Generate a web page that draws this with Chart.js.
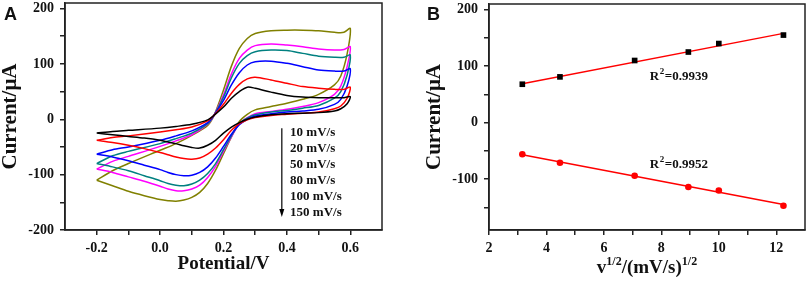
<!DOCTYPE html>
<html>
<head>
<meta charset="utf-8">
<script src="https://cdn.jsdelivr.net/npm/chart.js@4.4.1/dist/chart.umd.min.js"></script>
<style>
  html, body { margin: 0; padding: 0; background: #fff; }
  #wrap { position: relative; width: 809px; height: 283px; }
  canvas { position: absolute; top: 0; }
  #cv { left: 0; }
  #fit { left: 405px; }
</style>
</head>
<body>
<div id="wrap">
  <canvas id="cv" width="405" height="283"></canvas>
  <canvas id="fit" width="404" height="283"></canvas>
</div>
<script>
// -- THE DATA --

// Panel A: cyclic voltammograms, forward (anodic) and reverse (cathodic) sweeps
const scanRates = ['10 mV/s', '20 mV/s', '50 mV/s', '80 mV/s', '100 mV/s', '150 mV/s'];
const fwdPotential = [-0.2, -0.15, -0.1, 0.0, 0.05, 0.1, 0.15, 0.17, 0.2, 0.225, 0.25, 0.275, 0.3, 0.35, 0.4, 0.45, 0.5, 0.55, 0.58, 0.6];
const revPotential = [0.59, 0.57, 0.55, 0.5, 0.45, 0.4, 0.35, 0.3, 0.275, 0.25, 0.225, 0.2, 0.175, 0.15, 0.125, 0.1, 0.075, 0.05, 0.025, 0.0, -0.05, -0.1, -0.15, -0.2];

const fwd10  = [-25, -22, -20, -16, -13, -9, -1, 7, 22, 38, 50, 58, 56, 49, 43, 40, 39, 39, 39, 41];
const fwd20  = [-38, -33, -30, -23, -19, -14, -3, 7, 27, 47, 63, 73, 76, 71, 65, 59, 56, 54, 54, 58];
const fwd50  = [-63, -55, -50, -38, -30, -21, -6, 7, 34, 62, 84, 98, 104, 105, 101, 95, 89, 87, 87, 91];
const fwd80  = [-80, -66, -58, -44, -35, -25, -8, 7, 40, 75, 101, 115, 122, 125, 124, 119, 114, 112, 112, 116];
const fwd100 = [-90, -76, -67, -49, -39, -28, -9, 7, 44, 82, 110, 125, 133, 136, 134, 131, 127, 125, 126, 131];
const fwd150 = [-110, -93, -80, -56, -44, -29, -11, 7, 53, 96, 128, 146, 155, 160, 161, 161, 160, 157, 157, 164];

const rev10  = [28, 19, 15, 12, 11, 10, 8, 4, 0, -6, -14, -25, -38, -47, -52, -51, -48, -44, -41, -38, -34, -31, -28, -25];
const rev20  = [38, 24, 19, 13, 11, 9, 7, 3, -1, -8, -20, -37, -52, -63, -70, -72, -71, -68, -64, -60, -53, -47, -42, -38];
const rev50  = [60, 36, 27, 18, 15, 13, 10, 6, 0, -10, -27, -49, -70, -86, -96, -101, -102, -100, -96, -91, -83, -75, -68, -63];
const rev80  = [80, 50, 38, 25, 20, 16, 13, 8, 2, -8, -30, -55, -80, -98, -110, -117, -120, -119, -116, -111, -102, -93, -86, -80];
const rev100 = [95, 60, 45, 30, 23, 18, 14, 10, 3, -8, -32, -58, -85, -105, -119, -126, -129, -129, -126, -121, -112, -104, -96, -90];
const rev150 = [118, 78, 62, 45, 36, 29, 23, 17, 9, -4, -32, -62, -92, -116, -132, -141, -146, -148, -147, -145, -138, -130, -120, -110];

const cvColors = ['#000000', '#ff0000', '#0000ff', '#008080', '#ff00ff', '#808000'];
const potentialTicks = [-0.2, -0.1, 0.0, 0.1, 0.2, 0.3, 0.4, 0.5, 0.6];
const currentTicksA = [-200, -150, -100, -50, 0, 50, 100, 150, 200];

// Panel B: peak current vs square root of scan rate
const sqrtScanRate = [3.16, 4.47, 7.07, 8.94, 10.0, 12.25];
const anodicPeak = [68, 81, 110, 125, 140, 155];
const cathodicPeak = [-56, -71, -94, -114, -120, -147];
const fitRange = [3.16, 12.25];
const anodicFit = [69, 158];
const cathodicFit = [-57, -145];
const r2Labels = ['0.9939', '0.9952'];
const sqrtTicks = [2, 3, 4, 5, 6, 7, 8, 9, 10, 11, 12];
const currentTicksB = [-150, -100, -50, 0, 50, 100, 150, 200];

// -- THE CHARTS --

const ink = '#111';
const serif = '"Liberation Serif", "Times New Roman", serif';
const tickFont = { family: serif, weight: 'bold', size: 14 };

function pairs(xs, ys) {
  return xs.map((x, i) => ({ x: x, y: ys[i] }));
}

function axis(min, max, ticks, label, fixSize, pad) {
  return {
    type: 'linear',
    min: min,
    max: max,
    afterBuildTicks: s => { s.ticks = ticks.map(v => ({ value: v })); },
    afterFit: fixSize,
    border: { display: true, color: '#222', width: 1.5 },
    grid: { display: true, drawOnChartArea: false, drawTicks: true, tickLength: 5, color: '#222', lineWidth: 1.5 },
    ticks: { autoSkip: false, maxRotation: 0, color: ink, font: tickFont, padding: pad, callback: label }
  };
}

// box round the plot area
const framePlugin = {
  id: 'frame',
  afterDraw(chart) {
    const a = chart.chartArea, ctx = chart.ctx;
    ctx.save();
    ctx.strokeStyle = '#222';
    ctx.lineWidth = 1.5;
    ctx.strokeRect(a.left, a.top, a.right - a.left, a.bottom - a.top);
    ctx.fillStyle = ink;
    ctx.font = 'bold 18px "Liberation Sans", Arial, sans-serif';
    ctx.textBaseline = 'alphabetic';
    ctx.fillText(chart.options.plugins.frame.letter, chart.options.plugins.frame.letterX, 20);
    ctx.restore();
  }
};

// scan rate list with arrow (panel A)
const ratePlugin = {
  id: 'rates',
  afterDraw(chart) {
    const ctx = chart.ctx, x = chart.scales.x, y = chart.scales.y;
    const ax = x.getPixelForValue(0.384), tx = x.getPixelForValue(0.41);
    const top = y.getPixelForValue(-16), row0 = y.getPixelForValue(-25);
    const step = 16;
    const bottom = row0 + step * (scanRates.length - 1) + 4;
    ctx.save();
    ctx.strokeStyle = '#000';
    ctx.fillStyle = '#000';
    ctx.lineWidth = 1.2;
    ctx.beginPath();
    ctx.moveTo(ax, top);
    ctx.lineTo(ax, bottom - 6);
    ctx.stroke();
    ctx.beginPath();
    ctx.moveTo(ax - 2.5, bottom - 8);
    ctx.lineTo(ax + 2.5, bottom - 8);
    ctx.lineTo(ax, bottom);
    ctx.closePath();
    ctx.fill();
    ctx.fillStyle = ink;
    ctx.font = 'bold 13px ' + serif;
    ctx.textBaseline = 'middle';
    scanRates.forEach((r, i) => ctx.fillText(r, tx, row0 + i * step));
    ctx.restore();
  }
};

// R^2 notes and the x title with superscripts (panel B)
const notePlugin = {
  id: 'notes',
  afterDraw(chart) {
    const ctx = chart.ctx, x = chart.scales.x, y = chart.scales.y;
    ctx.save();
    ctx.fillStyle = ink;
    ctx.textBaseline = 'alphabetic';
    const notes = [[7.6, 76], [7.6, -81]];
    notes.forEach((n, i) => {
      let px = x.getPixelForValue(n[0]);
      const py = y.getPixelForValue(n[1]);
      ctx.font = 'bold 13px ' + serif;
      ctx.fillText('R', px, py);
      px += ctx.measureText('R').width + 0.5;
      ctx.font = 'bold 9px ' + serif;
      ctx.fillText('2', px, py - 6);
      px += ctx.measureText('2').width + 0.5;
      ctx.font = 'bold 13px ' + serif;
      ctx.fillText('=' + r2Labels[i], px, py);
    });
    // axis title
    const parts = [['v', 19, 0], ['1/2', 12, -8], ['/(mV/s)', 19, 0], ['1/2', 12, -8]];
    let total = 0;
    parts.forEach(p => { ctx.font = 'bold ' + p[1] + 'px ' + serif; total += ctx.measureText(p[0]).width; });
    let px = (chart.chartArea.left + chart.chartArea.right) / 2 - total / 2;
    const base = 273;
    parts.forEach(p => {
      ctx.font = 'bold ' + p[1] + 'px ' + serif;
      ctx.fillText(p[0], px, base + p[2]);
      px += ctx.measureText(p[0]).width;
    });
    ctx.restore();
  }
};

const fwdSets = [fwd10, fwd20, fwd50, fwd80, fwd100, fwd150];
const revSets = [rev10, rev20, rev50, rev80, rev100, rev150];

const cvDatasets = scanRates.map((r, i) => ({
  label: r,
  data: pairs(fwdPotential, fwdSets[i]).concat(pairs(revPotential, revSets[i])),
  showLine: true,
  borderColor: cvColors[i],
  borderWidth: 1.5,
  pointRadius: 0,
  tension: 0.3,
  fill: false
}));

new Chart(document.getElementById('cv'), {
  type: 'scatter',
  data: { datasets: cvDatasets },
  options: {
    responsive: false,
    animation: false,
    layout: { padding: { left: 0, top: 3, right: 23, bottom: 0 } },
    plugins: { legend: { display: false }, tooltip: { enabled: false }, frame: { letter: 'A', letterX: 4 } },
    scales: {
      x: Object.assign(axis(-0.3, 0.7, potentialTicks,
        v => (Math.round(v * 10) % 2 === 0 ? v.toFixed(1) : ''),
        s => { s.height = 53; s.paddingLeft = 0; s.paddingRight = 0; }, 5), {
        title: { display: true, text: 'Potential/V', color: ink, padding: { top: 0, bottom: 9 },
                 font: { family: serif, weight: 'bold', size: 19, lineHeight: 1 } }
      }),
      y: Object.assign(axis(-200, 210, currentTicksA,
        v => (v % 100 === 0 ? String(v) : ''),
        s => { s.width = 65; s.paddingTop = 0; s.paddingBottom = 0; }, 6), {
        title: { display: true, text: 'Current/μA', color: ink, padding: { top: 0, bottom: 0 },
                 font: { family: serif, weight: 'bold', size: 21, lineHeight: 1 } }
      })
    }
  },
  plugins: [framePlugin, ratePlugin]
});

new Chart(document.getElementById('fit'), {
  type: 'scatter',
  data: {
    datasets: [
      { label: 'anodic', data: pairs(sqrtScanRate, anodicPeak), pointStyle: 'rect', pointRadius: 4,
        backgroundColor: '#000', borderColor: '#000', borderWidth: 0 },
      { label: 'cathodic', data: pairs(sqrtScanRate, cathodicPeak), pointStyle: 'circle', pointRadius: 3.3,
        backgroundColor: '#ff0000', borderColor: '#ff0000', borderWidth: 0 },
      { label: 'anodic fit', data: pairs(fitRange, anodicFit), showLine: true, pointRadius: 0,
        borderColor: '#ff0000', borderWidth: 1.5 },
      { label: 'cathodic fit', data: pairs(fitRange, cathodicFit), showLine: true, pointRadius: 0,
        borderColor: '#ff0000', borderWidth: 1.5 }
    ]
  },
  options: {
    responsive: false,
    animation: false,
    layout: { padding: { left: 0, top: 3, right: 3, bottom: 0 } },
    plugins: { legend: { display: false }, tooltip: { enabled: false }, frame: { letter: 'B', letterX: 22 } },
    scales: {
      x: axis(2, 13, sqrtTicks,
        v => (v % 2 === 0 ? String(v) : ''),
        s => { s.height = 53; s.paddingLeft = 0; s.paddingRight = 0; }, 5),
      y: Object.assign(axis(-190, 210, currentTicksB,
        v => (v % 100 === 0 ? String(v) : ''),
        s => { s.width = 84; s.paddingTop = 0; s.paddingBottom = 0; }, 6), {
        title: { display: true, text: 'Current/μA', color: ink, padding: { top: 19, bottom: 0 },
                 font: { family: serif, weight: 'bold', size: 21, lineHeight: 1 } }
      })
    }
  },
  plugins: [framePlugin, notePlugin]
});
</script>
</body>
</html>
